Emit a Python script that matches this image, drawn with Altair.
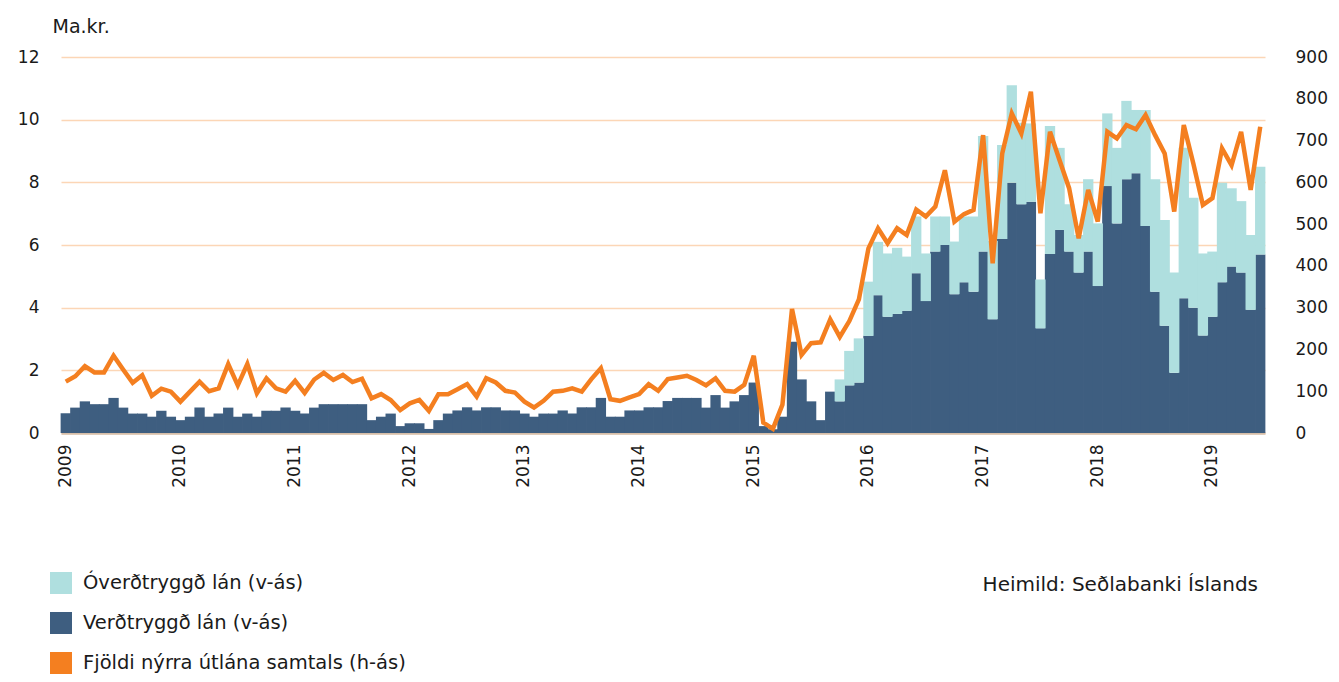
import altair as alt
import pandas as pd

# ---- data ----
months = [f"{2009 + i // 12}-{i % 12 + 1:02d}" for i in range(126)]
year_ticks = [f"{y}-01" for y in range(2009, 2020)]

verdtryggd = [
    0.63, 0.81, 1.01, 0.92, 0.92, 1.12, 0.81, 0.62, 0.62, 0.52, 0.71, 0.52,
    0.41, 0.52, 0.81, 0.52, 0.62, 0.81, 0.52, 0.62, 0.52, 0.71, 0.71, 0.81,
    0.71, 0.62, 0.81, 0.92, 0.92, 0.92, 0.92, 0.92, 0.41, 0.52, 0.62, 0.22,
    0.31, 0.31, 0.13, 0.41, 0.62, 0.72, 0.82, 0.72, 0.82, 0.82, 0.72, 0.72,
    0.62, 0.52, 0.62, 0.62, 0.72, 0.62, 0.82, 0.82, 1.12, 0.52, 0.52, 0.72,
    0.72, 0.82, 0.82, 1.02, 1.12, 1.12, 1.12, 0.81, 1.21, 0.81, 1.01, 1.21,
    1.61, 0.22, 0.12, 0.52, 2.91, 1.71, 1.01, 0.41, 1.32, 1.01, 1.52, 1.61,
    3.10, 4.40, 3.71, 3.80, 3.90, 5.10, 4.21, 5.79, 6.00, 4.43, 4.81, 4.51,
    5.79, 3.63, 6.19, 7.99, 7.30, 7.38, 3.34, 5.71, 6.48, 5.79, 5.12, 5.79,
    4.69, 7.88, 6.69, 8.10, 8.29, 6.61, 4.51, 3.42, 1.92, 4.30, 4.00, 3.11,
    3.71, 4.81, 5.31, 5.12, 3.93, 5.70,
]

overdtryggd = [
    0.0, 0.0, 0.0, 0.0, 0.0, 0.0, 0.0, 0.0, 0.0, 0.0, 0.0, 0.0,
    0.0, 0.0, 0.0, 0.0, 0.0, 0.0, 0.0, 0.0, 0.0, 0.0, 0.0, 0.0,
    0.0, 0.0, 0.0, 0.0, 0.0, 0.0, 0.0, 0.0, 0.0, 0.0, 0.0, 0.0,
    0.0, 0.0, 0.0, 0.0, 0.0, 0.0, 0.0, 0.0, 0.0, 0.0, 0.0, 0.0,
    0.0, 0.0, 0.0, 0.0, 0.0, 0.0, 0.0, 0.0, 0.0, 0.0, 0.0, 0.0,
    0.0, 0.0, 0.0, 0.0, 0.0, 0.0, 0.0, 0.0, 0.0, 0.0, 0.0, 0.0,
    0.0, 0.0, 0.0, 0.0, 0.0, 0.0, 0.0, 0.0, 0.0, 0.70, 1.10, 1.41,
    1.73, 1.70, 2.02, 2.11, 1.73, 1.81, 1.52, 1.12, 0.91, 1.68, 2.10, 2.40,
    3.69, 2.50, 3.00, 3.11, 2.60, 2.50, 1.56, 4.09, 2.62, 1.51, 1.20, 2.31,
    2.00, 2.32, 2.41, 2.50, 2.02, 3.70, 3.59, 3.38, 3.20, 4.80, 3.51, 2.62,
    2.08, 3.18, 2.50, 2.28, 2.39, 2.80,
]

fjoldi = [
    123, 136, 160, 145, 145, 185, 152, 120, 138, 89, 106, 99,
    75, 99, 123, 100, 107, 165, 114, 165, 95, 131, 107, 99,
    125, 96, 128, 144, 127, 139, 122, 130, 83, 93, 79, 55,
    71, 79, 53, 93, 93, 105, 117, 87, 131, 121, 101, 97,
    75, 61, 77, 99, 101, 107, 99, 129, 155, 81, 77, 85,
    93, 117, 101, 129, 133, 137, 127, 114, 131, 101, 99, 115,
    185, 25, 10, 68, 297, 187, 215, 217, 272, 230, 268, 320,
    442, 490, 454, 490, 474, 535, 518, 542, 629, 506, 524, 534,
    713, 406, 669, 765, 717, 817, 526, 721, 653, 586, 466, 582,
    506, 721, 705, 737, 727, 761, 713, 669, 530, 737, 645, 546,
    562, 681, 641, 721, 582, 733,
]

S_OVER = "Óverðtryggð lán (v-ás)"
S_VERD = "Verðtryggð lán (v-ás)"
S_FJ = "Fjöldi nýrra útlána samtals (h-ás)"
SOURCE = "Heimild: Seðlabanki Íslands"

C_OVER = "#afdfdf"
C_VERD = "#3e5e80"
C_FJ = "#f47f20"
GRID = "#fcd6b6"
TXT = "#1a1a1a"
FONT = "DejaVu Sans"

wide = pd.DataFrame({"month": months, S_VERD: verdtryggd, S_OVER: overdtryggd, "fjoldi": fjoldi})
long = wide.melt(id_vars=["month"], value_vars=[S_VERD, S_OVER], var_name="series", value_name="val")
long["ord"] = long["series"].map({S_VERD: 0, S_OVER: 1})

x_enc = alt.X(
    "month:O",
    sort=months,
    scale=alt.Scale(paddingInner=0, paddingOuter=0),
    axis=alt.Axis(
        values=year_ticks,
        labelExpr="substring(datum.value, 0, 4)",
        labelAngle=-90,
        labelAlign="right",
        labelBaseline="middle",
        labelPadding=11,
        labelFontSize=17,
        labelFont=FONT,
        labelColor=TXT,
        labelOverlap=False,
        ticks=False,
        grid=False,
        domain=True,
        domainColor="#d6bea8",
        domainWidth=2.5,
        title=None,
    ),
)

bars = alt.Chart(long).mark_bar(strokeWidth=0, width=alt.RelativeBandSize(1.08)).encode(
    x=x_enc,
    y=alt.Y(
        "val:Q",
        stack="zero",
        scale=alt.Scale(domain=[0, 12], nice=False),
        axis=alt.Axis(
            values=[0, 2, 4, 6, 8, 10, 12],
            title="Ma.kr.",
            titleAngle=0,
            titleAlign="left",
            titleBaseline="alphabetic",
            titleX=-9,
            titleY=-25,
            titleFont=FONT,
            titleFontSize=19,
            titleFontWeight="normal",
            titleColor=TXT,
            labelFont=FONT,
            labelFontSize=17,
            labelColor=TXT,
            labelPadding=22,
            ticks=False,
            domain=False,
            grid=True,
            gridColor=GRID,
            gridWidth=1.5,
        ),
    ),
    color=alt.Color(
        "series:N",
        scale=alt.Scale(domain=[S_OVER, S_VERD, S_FJ], range=[C_OVER, C_VERD, C_FJ]),
        legend=alt.Legend(
            orient="none",
            legendX=-11,
            legendY=515,
            direction="vertical",
            title=None,
            symbolType="square",
            symbolSize=484,
            symbolStrokeWidth=0,
            rowPadding=18,
            labelOffset=11,
            labelFont=FONT,
            labelFontSize=19.5,
            labelColor=TXT,
            labelLimit=600,
        ),
    ),
    order=alt.Order("ord:Q", sort="ascending"),
)

line = alt.Chart(wide).mark_line(color=C_FJ, strokeWidth=4.5, strokeJoin="miter").encode(
    x=alt.X("month:O", sort=months),
    y=alt.Y(
        "fjoldi:Q",
        scale=alt.Scale(domain=[0, 900], nice=False),
        axis=alt.Axis(
            orient="right",
            values=[0, 100, 200, 300, 400, 500, 600, 700, 800, 900],
            title=None,
            labelFont=FONT,
            labelFontSize=17,
            labelColor=TXT,
            labelPadding=30,
            ticks=False,
            domain=False,
            grid=False,
        ),
    ),
)

source = alt.Chart(pd.DataFrame({"t": [SOURCE]})).mark_text(
    align="right", baseline="middle", font=FONT, fontSize=20, color=TXT
).encode(x=alt.value(1197), y=alt.value(528), text="t:N")

chart = (
    alt.layer(bars, line, source)
    .resolve_scale(y="independent")
    .properties(
        width=1204,
        height=376,
        autosize=alt.AutoSizeParams(type="none"),
        padding={"left": 53, "top": 49, "right": 66, "bottom": 241},
    )
    .configure_view(stroke=None)
)

chart.save("out.html", embed_options={"renderer": "svg", "actions": False})
